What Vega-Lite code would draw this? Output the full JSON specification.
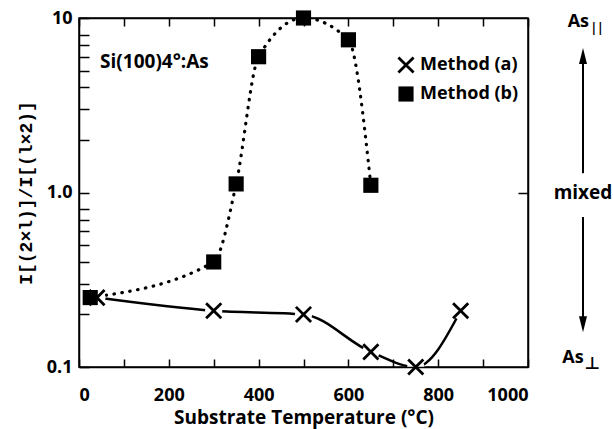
{
  "$schema": "https://vega.github.io/schema/vega-lite/v6.json",
  "width": 449,
  "height": 349,
  "autosize": "none",
  "padding": {"left": 79, "top": 18, "right": 85, "bottom": 62},
  "background": "white",
  "config": {
    "view": {"stroke": "black", "strokeWidth": 1.5},
    "font": "Open Sans",
    "legend": {
      "orient": "none",
      "legendX": 318,
      "legendY": 38,
      "title": null,
      "labelFont": "Open Sans",
      "labelFontSize": 18,
      "labelFontWeight": "bold",
      "labelColor": "black",
      "labelOffset": 5,
      "rowPadding": 6,
      "padding": 0,
      "symbolSize": 230
    }
  },
  "datasets": {
    "pts": [
      {"method": "Method (a)", "temp": 40, "ratio": 0.25},
      {"method": "Method (a)", "temp": 300, "ratio": 0.21},
      {"method": "Method (a)", "temp": 500, "ratio": 0.20},
      {"method": "Method (a)", "temp": 650, "ratio": 0.122},
      {"method": "Method (a)", "temp": 750, "ratio": 0.10},
      {"method": "Method (a)", "temp": 850, "ratio": 0.21},
      {"method": "Method (b)", "temp": 25, "ratio": 0.25},
      {"method": "Method (b)", "temp": 300, "ratio": 0.40},
      {"method": "Method (b)", "temp": 350, "ratio": 1.12},
      {"method": "Method (b)", "temp": 400, "ratio": 6.0},
      {"method": "Method (b)", "temp": 500, "ratio": 10.0},
      {"method": "Method (b)", "temp": 600, "ratio": 7.5},
      {"method": "Method (b)", "temp": 650, "ratio": 1.1}
    ],
    "shafts": [
      {"t": 1122.5, "r1": 6.06, "r2": 1.29},
      {"t": 1122.5, "r1": 0.724, "r2": 0.176}
    ],
    "heads": [
      {"dir": "up", "t": 1122.5, "r": 6.06},
      {"dir": "down", "t": 1122.5, "r": 0.176}
    ],
    "as": [
      {"label": "As", "t": 1136, "r": 8.88},
      {"label": "As", "t": 1124, "r": 0.1054}
    ],
    "par": [{"label": "||", "t": 1139, "r": 8.3}],
    "perp": [{"label": "⊥", "t": 1126, "r": 0.097}],
    "mixed": [{"label": "mixed", "t": 1122.5, "r": 1.0}],
    "ttl": [{"label": "Si(100)4°:As", "t": 47, "r": 5.6}]
  },
  "layer": [
    {
      "data": {"name": "pts"},
      "transform": [{"filter": "datum.method === 'Method (b)'"}],
      "mark": {"type": "line", "interpolate": "monotone", "strokeDash": [0.5, 7.5], "strokeCap": "round", "strokeWidth": 3.2, "color": "black"},
      "encoding": {
        "x": {"field": "temp", "type": "quantitative", "scale": {"domain": [0, 1000], "nice": false, "zero": false},
          "axis": {"orient": "bottom", "values": [0, 100, 200, 300, 400, 500, 600, 700, 800, 900, 1000],
            "labelExpr": "datum.value % 200 === 0 ? datum.label : ''", "format": "d",
            "tickSize": -8, "tickWidth": 1.5, "tickColor": "black", "domainColor": "black", "domainWidth": 1.5,
            "labelFont": "Open Sans", "labelFontWeight": "bold", "labelFontSize": 18, "labelColor": "black", "labelPadding": 27,
            "title": "Substrate Temperature (°C)", "titleFont": "Open Sans", "titleFontSize": 19, "titleFontWeight": "bold", "titleColor": "black", "titlePadding": 4,
            "grid": false, "zindex": 1}},
        "y": {"field": "ratio", "type": "quantitative", "scale": {"type": "log", "domain": [0.1, 10], "nice": false},
          "axis": {"orient": "left", "values": [0.1, 0.2, 0.3, 0.4, 0.5, 0.6, 0.7, 0.8, 1, 2, 3, 4, 5, 6, 7, 8, 10],
            "labelExpr": "datum.value == 0.1 ? '0.1' : (datum.value == 1 ? '1.0' : (datum.value == 10 ? '10' : ''))",
            "tickSize": -10, "tickWidth": 1.5, "tickColor": "black", "domainColor": "black", "domainWidth": 1.5,
            "labelFont": "Open Sans", "labelFontWeight": "bold", "labelFontSize": 18, "labelColor": "black", "labelPadding": 17,
            "title": "I[(2×l)]/I[(l×2)]", "titleFont": "Liberation Mono", "titleFontSize": 18, "titleFontWeight": "bold", "titleColor": "black", "titlePadding": 11,
            "grid": false, "zindex": 1}}
      }
    },
    {
      "data": {"name": "pts"},
      "transform": [{"filter": "datum.method === 'Method (a)'"}],
      "mark": {"type": "line", "interpolate": "monotone", "strokeWidth": 2.5, "color": "black"},
      "encoding": {
        "x": {"field": "temp", "type": "quantitative",
          "axis": {"orient": "top", "values": [0, 100, 200, 300, 400, 500, 600, 700, 800, 900, 1000], "labels": false, "title": null,
            "tickSize": -8, "tickWidth": 1.5, "tickColor": "black", "domainColor": "black", "domainWidth": 1.5, "grid": false, "zindex": 1}},
        "y": {"field": "ratio", "type": "quantitative",
          "axis": {"orient": "right", "values": [1], "labels": false, "title": null,
            "tickSize": -10, "tickWidth": 1.5, "tickColor": "black", "domainColor": "black", "domainWidth": 1.5, "grid": false, "zindex": 1}}
      }
    },
    {
      "data": {"name": "pts"},
      "transform": [{"filter": "datum.method === 'Method (a)'"}],
      "mark": {"type": "point", "shape": "circle", "size": 300, "filled": true, "color": "white", "opacity": 1},
      "encoding": {
        "x": {"field": "temp", "type": "quantitative", "axis": null},
        "y": {"field": "ratio", "type": "quantitative", "axis": null}
      }
    },
    {
      "data": {"name": "pts"},
      "mark": {"type": "point", "size": 230, "filled": true, "color": "black", "opacity": 1},
      "encoding": {
        "x": {"field": "temp", "type": "quantitative", "axis": null},
        "y": {"field": "ratio", "type": "quantitative", "axis": null},
        "shape": {"field": "method", "type": "nominal", "scale": {"domain": ["Method (a)", "Method (b)"],
          "range": ["M-0.87,-1.13L1.13,0.87L0.87,1.13L-1.13,-0.87ZM-1.13,0.87L0.87,-1.13L1.13,-0.87L-0.87,1.13Z", "square"]}}
      }
    },
    {
      "data": {"name": "ttl"},
      "mark": {"type": "text", "align": "left", "baseline": "middle", "font": "Open Sans", "fontSize": 19, "fontWeight": "bold", "fill": "black"},
      "encoding": {
        "x": {"field": "t", "type": "quantitative", "axis": null},
        "y": {"field": "r", "type": "quantitative", "axis": null},
        "text": {"field": "label"}
      }
    },
    {
      "data": {"name": "shafts"},
      "mark": {"type": "rule", "strokeWidth": 2, "color": "black"},
      "encoding": {
        "x": {"field": "t", "type": "quantitative", "axis": null},
        "y": {"field": "r1", "type": "quantitative", "axis": null},
        "y2": {"field": "r2"}
      }
    },
    {
      "data": {"name": "heads"},
      "transform": [{"filter": "datum.dir === 'up'"}],
      "mark": {"type": "point", "shape": "M0,-1L0.5,1L-0.5,1Z", "size": 256, "filled": true, "color": "black", "opacity": 1},
      "encoding": {
        "x": {"field": "t", "type": "quantitative", "axis": null},
        "y": {"field": "r", "type": "quantitative", "axis": null}
      }
    },
    {
      "data": {"name": "heads"},
      "transform": [{"filter": "datum.dir === 'down'"}],
      "mark": {"type": "point", "shape": "M0,1L0.5,-1L-0.5,-1Z", "size": 256, "filled": true, "color": "black", "opacity": 1},
      "encoding": {
        "x": {"field": "t", "type": "quantitative", "axis": null},
        "y": {"field": "r", "type": "quantitative", "axis": null}
      }
    },
    {
      "data": {"name": "as"},
      "mark": {"type": "text", "align": "right", "baseline": "alphabetic", "font": "Open Sans", "fontSize": 18, "fontWeight": "bold", "fill": "black"},
      "encoding": {
        "x": {"field": "t", "type": "quantitative", "axis": null},
        "y": {"field": "r", "type": "quantitative", "axis": null},
        "text": {"field": "label"}
      }
    },
    {
      "data": {"name": "par"},
      "mark": {"type": "text", "align": "left", "baseline": "alphabetic", "font": "Open Sans", "fontSize": 12, "fontWeight": "bold", "fill": "black"},
      "encoding": {
        "x": {"field": "t", "type": "quantitative", "axis": null},
        "y": {"field": "r", "type": "quantitative", "axis": null},
        "text": {"field": "label"}
      }
    },
    {
      "data": {"name": "perp"},
      "mark": {"type": "text", "align": "left", "baseline": "alphabetic", "font": "DejaVu Sans", "fontSize": 17, "fontWeight": "bold", "fill": "black"},
      "encoding": {
        "x": {"field": "t", "type": "quantitative", "axis": null},
        "y": {"field": "r", "type": "quantitative", "axis": null},
        "text": {"field": "label"}
      }
    },
    {
      "data": {"name": "mixed"},
      "mark": {"type": "text", "align": "center", "baseline": "middle", "font": "Open Sans", "fontSize": 19, "fontWeight": "bold", "fill": "black"},
      "encoding": {
        "x": {"field": "t", "type": "quantitative", "axis": null},
        "y": {"field": "r", "type": "quantitative", "axis": null},
        "text": {"field": "label"}
      }
    }
  ],
  "resolve": {"axis": {"x": "independent", "y": "independent"}}
}
